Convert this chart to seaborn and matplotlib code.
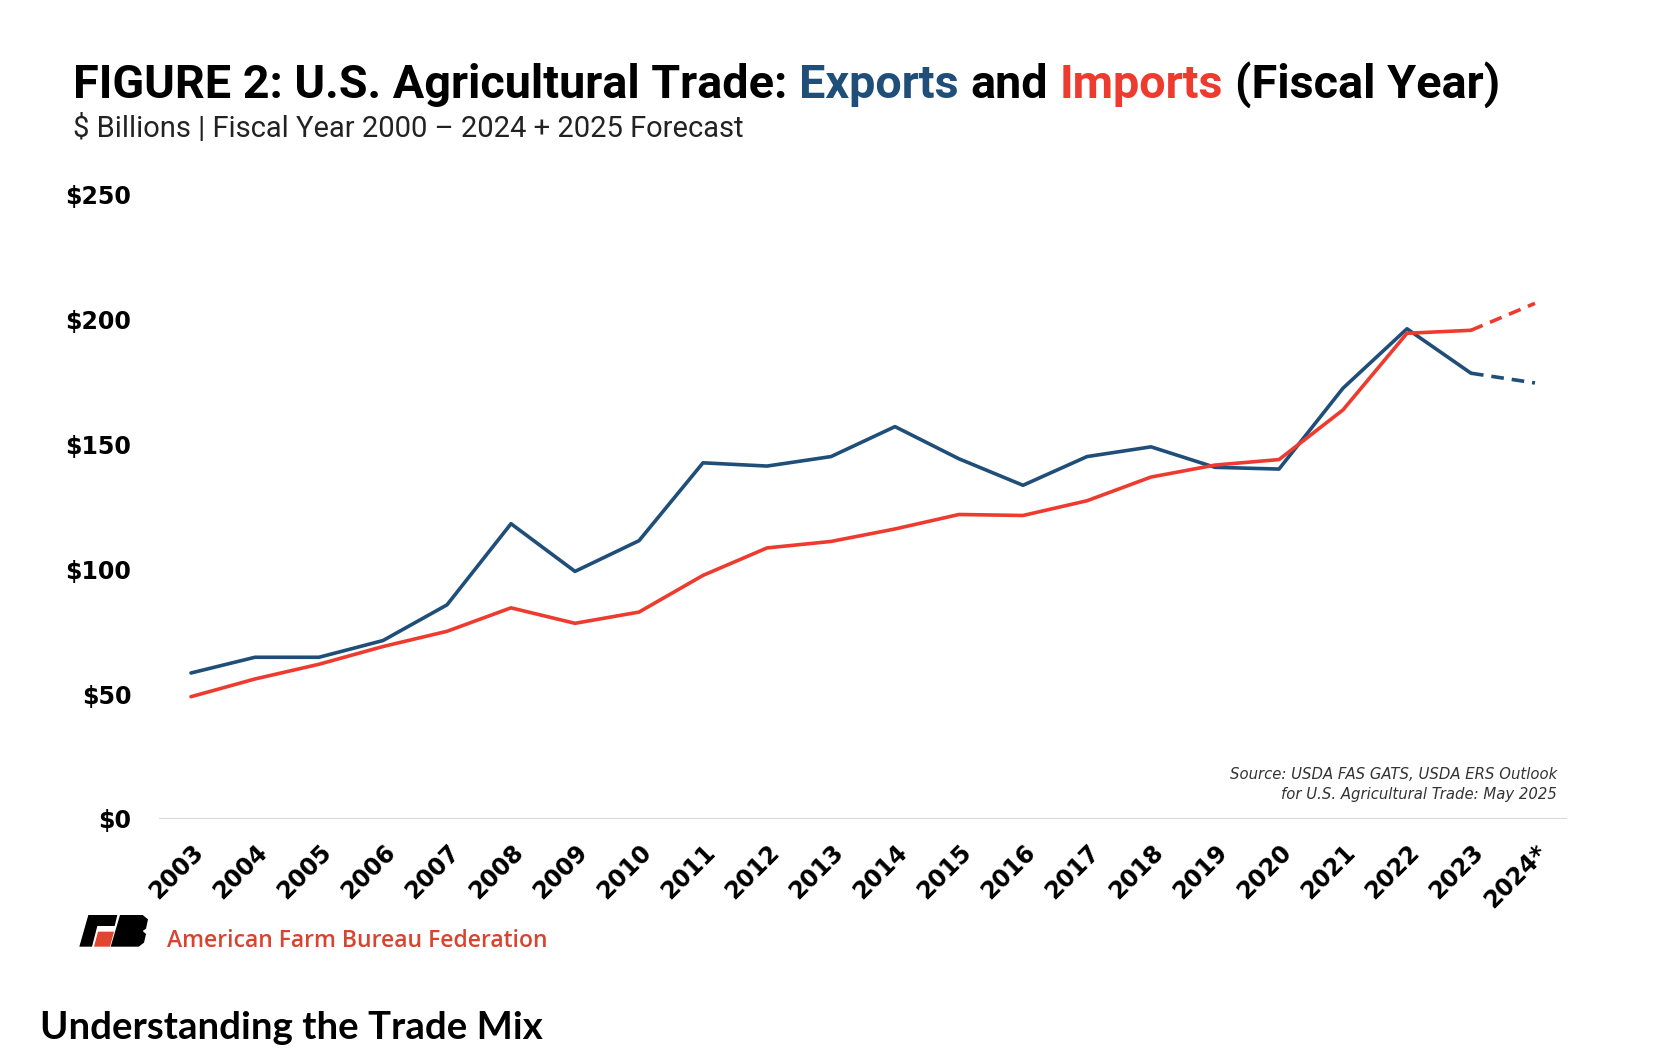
import matplotlib
matplotlib.use("Agg")
import matplotlib.pyplot as plt
from matplotlib.patches import Polygon
import seaborn as sns
import pandas as pd

# values ($ billions, fiscal year)
years = ["2003", "2004", "2005", "2006", "2007", "2008", "2009", "2010", "2011", "2012", "2013",
         "2014", "2015", "2016", "2017", "2018", "2019", "2020", "2021", "2022", "2023", "2024*"]
exports = [58.5, 64.8, 64.8, 71.5, 85.8, 118.3, 99.2, 111.5, 142.7, 141.4, 145.2,
           157.2, 144.3, 133.7, 145.2, 149.1, 140.9, 140.2, 172.6, 196.4, 178.6, 174.7]
imports = [49.0, 56.1, 62.0, 69.1, 75.2, 84.6, 78.4, 82.9, 97.6, 108.6, 111.2,
           116.2, 122.0, 121.6, 127.5, 137.0, 141.8, 144.0, 163.9, 194.6, 195.8, 206.6]
yticks = [0, 50, 100, 150, 200, 250]

BLUE = "#1f4e79"
RED = "#ee3b2f"
W, H = 1660, 1052

sns.set_theme(style="white")
plt.rcParams["font.family"] = ["DejaVu Sans"]

df = pd.DataFrame({"pos": range(len(years)), "year": years,
                   "Exports": exports, "Imports": imports})
actual = df.iloc[:-1]
forecast = df.iloc[-2:]

fig = plt.figure(figsize=(W / 100, H / 100), dpi=100)
ax = fig.add_axes([159 / W, 1 - 819 / H, (1567 - 159) / W, (819 - 195) / H])

sns.lineplot(data=actual, x="pos", y="Exports", color=BLUE, lw=2.6, ax=ax)
sns.lineplot(data=actual, x="pos", y="Imports", color=RED, lw=2.6, ax=ax)
sns.lineplot(data=forecast, x="pos", y="Exports", color=BLUE, lw=2.6, ax=ax,
             linestyle=(0, (3.5, 2.2)))
sns.lineplot(data=forecast, x="pos", y="Imports", color=RED, lw=2.6, ax=ax,
             linestyle=(0, (3.5, 2.2)))

ax.set_xlim(-0.5, len(years) - 0.5)
ax.set_ylim(0, 250)
ax.set_yticks(yticks)
ax.set_yticklabels([r"\$" + str(v) for v in yticks], fontsize=17, fontweight="bold")
ax.set_xticks(df["pos"])
ax.set_xticklabels(years, rotation=45, ha="right", va="top", rotation_mode="anchor",
                   fontsize=17, fontweight="bold")
ax.tick_params(axis="y", length=0, pad=20, colors="black")
ax.tick_params(axis="x", length=0, pad=15, colors="black")
ax.set_xlabel("")
ax.set_ylabel("")
for s in ax.spines.values():
    s.set_visible(False)
ax.axhline(0, color="#d9d9d9", lw=1.5, zorder=0)
ax.grid(False)

ax.text(0.993, 0.055, "Source: USDA FAS GATS, USDA ERS Outlook\nfor U.S. Agricultural Trade: May 2025",
        transform=ax.transAxes, ha="right", va="center", fontsize=10.7, style="italic",
        color="#333333", linespacing=1.45)

# title with coloured words
renderer = fig.canvas.get_renderer()
title_kw = dict(fontsize=33.7, fontweight="bold", family=["Roboto", "DejaVu Sans"])


def text_width(s, **kw):
    t = fig.text(0, 0, s, **kw)
    w = t.get_window_extent(renderer=renderer).width
    t.remove()
    return w


parts = [("FIGURE 2: U.S. Agricultural Trade:", "black"), ("Exports", BLUE), ("and", "black"),
         ("Imports", RED), ("(Fiscal Year)", "black")]
x0 = 73
ty = 1 - 98 / H
prefix = ""
for i, (s, c) in enumerate(parts):
    prefix = prefix + ("" if i == 0 else " ") + s
    start = x0 + text_width(prefix, **title_kw) - text_width(s, **title_kw)
    fig.text(start / W, ty, s, color=c, va="baseline", ha="left", **title_kw)

fig.text(x0 / W, 1 - 137 / H, r"\$ Billions | Fiscal Year 2000 – 2024 + 2025 Forecast",
         fontsize=21, color="#222222", va="baseline", family=["Roboto", "DejaVu Sans"])

# AFBF logo
def zp(pts):
    return [((60 + zx / 3) / W, 1 - (900 + zy / 3) / H) for zx, zy in pts]


logo_black = [
    [(85, 45), (172, 45), (164, 78), (112, 78), (96, 140), (58, 140)],
    [(180, 45), (248, 45), (264, 58), (258, 86), (248, 93), (258, 102), (252, 128),
     (236, 140), (152, 140)],
]
for p in logo_black:
    fig.patches.append(Polygon(zp(p), closed=True, transform=fig.transFigure,
                               facecolor="black", edgecolor="none"))
fig.patches.append(Polygon(zp([(114, 95), (162, 95), (150, 140), (102, 140)]), closed=True,
                           transform=fig.transFigure, facecolor="#e0452f", edgecolor="none"))
fig.text(167 / W, 1 - 947 / H, "American Farm Bureau Federation", color="#d9432f",
         fontsize=16.5, fontweight="semibold", family=["Open Sans", "DejaVu Sans"],
         va="baseline")

fig.text(40 / W, 1 - 1028 / H, "Understanding the Trade Mix", fontsize=27.6, fontweight="bold",
         family=["Lato", "DejaVu Sans"], va="center", color="black")

fig.savefig("out.png", dpi=100, facecolor="white")
